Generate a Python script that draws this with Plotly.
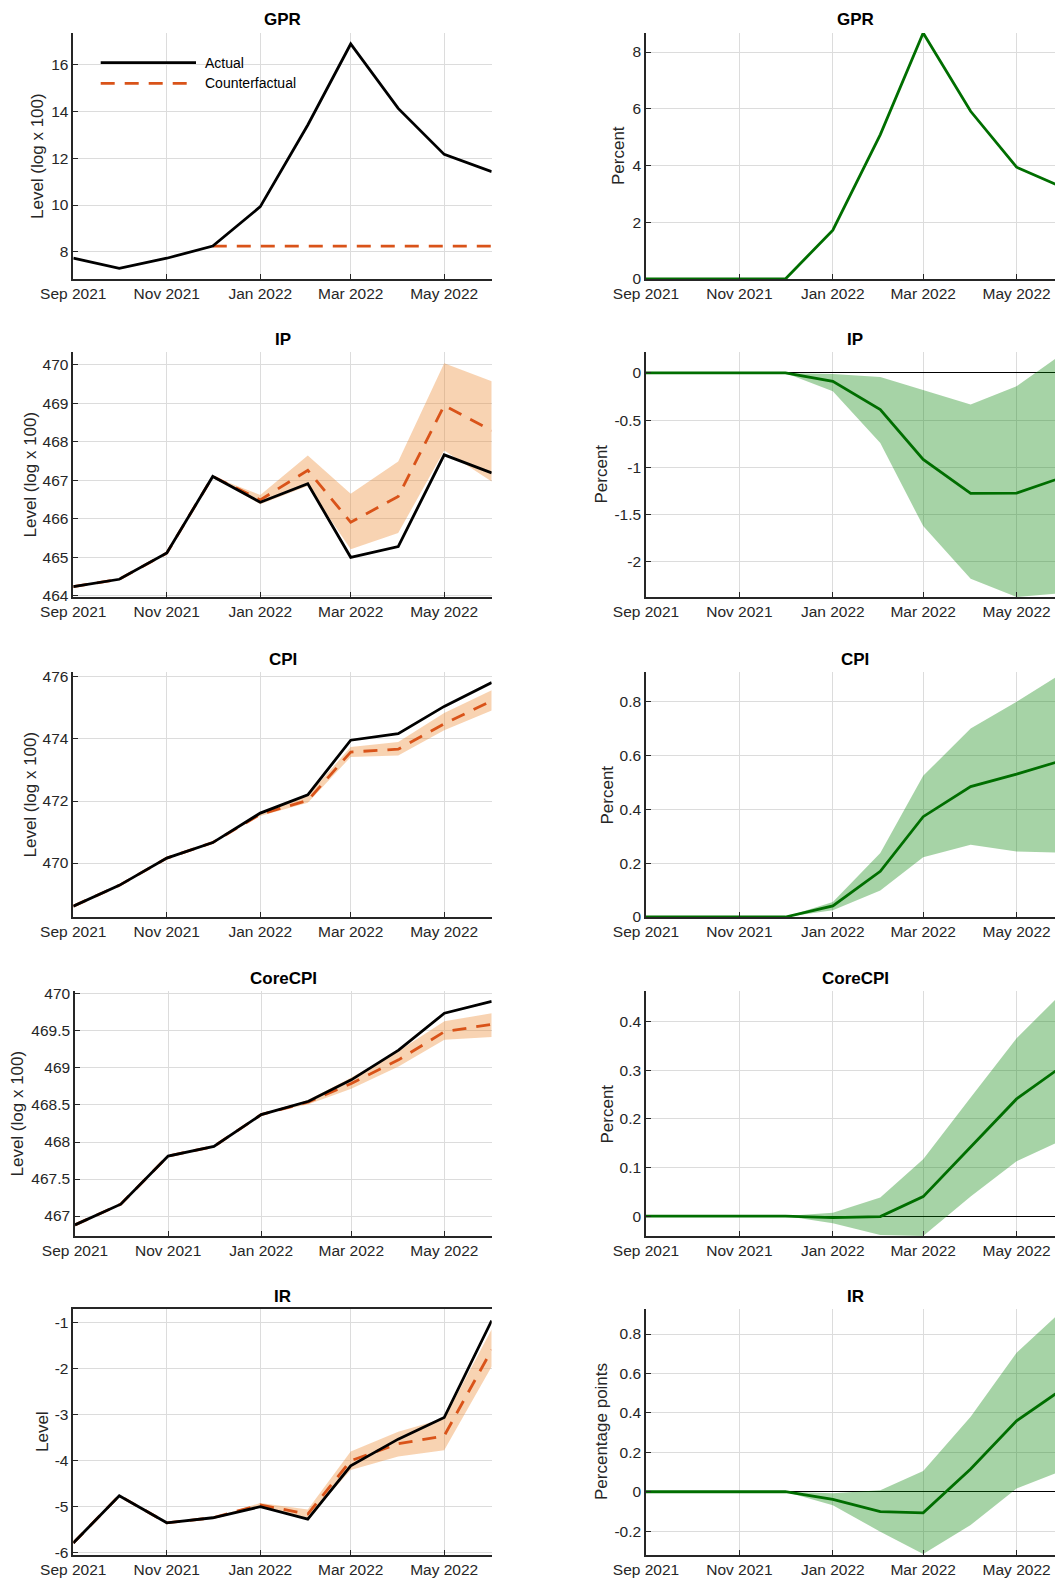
import plotly.graph_objects as go
from plotly.subplots import make_subplots

# ---------------- data ----------------
months = ["2021-09-01", "2021-10-01", "2021-11-01", "2021-12-01", "2022-01-01",
          "2022-02-01", "2022-03-01", "2022-04-01", "2022-05-01", "2022-06-01"]
xtick_vals = ["2021-09-01", "2021-11-01", "2022-01-01", "2022-03-01", "2022-05-01"]
xtick_text = ["Sep 2021", "Nov 2021", "Jan 2022", "Mar 2022", "May 2022"]

variables = ["GPR", "IP", "CPI", "CoreCPI", "IR"]
left_ylabels = ["Level (log x 100)", "Level (log x 100)", "Level (log x 100)", "Level (log x 100)", "Level"]
right_ylabels = ["Percent", "Percent", "Percent", "Percent", "Percentage points"]

# GPR
gpr_actual = [7.72, 7.29, 7.72, 8.24, 9.93, 13.43, 16.90, 14.14, 12.17, 11.43]
gpr_cf = [None, None, None, 8.24, 8.24, 8.24, 8.24, 8.24, 8.24, 8.24]
gpr_cf_hi = [None] * 10
gpr_cf_lo = [None] * 10
gpr_eff = [0, 0, 0, 0, 1.72, 5.09, 8.67, 5.91, 3.94, 3.21]
gpr_eff_hi = [None] * 10
gpr_eff_lo = [None] * 10

# IP
ip_actual = [464.24, 464.43, 465.11, 467.10, 466.43, 466.91, 465.00, 465.28, 467.66, 467.19]
ip_cf = [464.24, 464.43, 465.11, 467.10, 466.49, 467.26, 465.91, 466.58, 468.94, 468.29]
ip_cf_hi = [None, None, None, 467.10, 466.62, 467.64, 466.65, 467.49, 470.04, 469.57]
ip_cf_lo = [None, None, None, 467.10, 466.38, 466.85, 465.21, 465.63, 467.77, 466.97]
ip_eff = [0, 0, 0, 0, -0.088, -0.388, -0.917, -1.277, -1.273, -1.10]
ip_eff_hi = [None, None, None, 0, -0.01, -0.042, -0.183, -0.335, -0.141, 0.217]
ip_eff_lo = [None, None, None, 0, -0.194, -0.741, -1.623, -2.18, -2.374, -2.33]

# CPI
cpi_actual = [468.61, 469.28, 470.16, 470.66, 471.61, 472.20, 473.96, 474.17, 475.05, 475.82]
cpi_cf = [468.61, 469.28, 470.16, 470.66, 471.57, 472.02, 473.58, 473.67, 474.49, 475.23]
cpi_cf_hi = [None, None, None, 470.66, 471.62, 472.18, 473.74, 473.90, 474.84, 475.57]
cpi_cf_lo = [None, None, None, 470.66, 471.52, 471.94, 473.42, 473.47, 474.28, 474.92]
cpi_eff = [0, 0, 0, 0, 0.041, 0.170, 0.373, 0.485, 0.531, 0.584]
cpi_eff_hi = [None, None, None, 0, 0.056, 0.238, 0.525, 0.701, 0.80, 0.911]
cpi_eff_lo = [None, None, None, 0, 0.025, 0.099, 0.222, 0.269, 0.244, 0.239]

# CoreCPI
core_actual = [466.88, 467.16, 467.81, 467.94, 468.37, 468.55, 468.84, 469.24, 469.74, 469.90]
core_cf = [466.88, 467.16, 467.81, 467.94, 468.37, 468.54, 468.79, 469.11, 469.49, 469.59]
core_cf_hi = [None, None, None, 467.94, 468.37, 468.57, 468.87, 469.23, 469.63, 469.74]
core_cf_lo = [None, None, None, 467.94, 468.37, 468.51, 468.72, 469.02, 469.38, 469.42]
core_eff = [0, 0, 0, 0, -0.003, -0.001, 0.040, 0.142, 0.241, 0.311]
core_eff_hi = [None, None, None, 0, 0.007, 0.038, 0.117, 0.244, 0.366, 0.463]
core_eff_lo = [None, None, None, 0, -0.015, -0.039, -0.041, 0.040, 0.113, 0.158]

# IR
ir_actual = [-5.80, -4.77, -5.36, -5.25, -5.01, -5.28, -4.12, -3.54, -3.07, -0.96]
ir_cf = [-5.80, -4.77, -5.36, -5.25, -4.97, -5.17, -4.01, -3.64, -3.47, -1.60]
ir_cf_hi = [None, None, None, -5.25, -4.93, -5.07, -3.81, -3.38, -3.09, -1.15]
ir_cf_lo = [None, None, None, -5.25, -5.02, -5.26, -4.21, -3.92, -3.78, -1.96]
ir_eff = [0, 0, 0, 0, -0.039, -0.101, -0.107, 0.115, 0.360, 0.526]
ir_eff_hi = [None, None, None, 0, -0.008, 0.008, 0.105, 0.381, 0.705, 0.927]
ir_eff_lo = [None, None, None, 0, -0.068, -0.203, -0.316, -0.169, 0.017, 0.111]

# y tick values and axis ranges
left_yticks = [[8, 10, 12, 14, 16], [464, 465, 466, 467, 468, 469, 470], [470, 472, 474, 476],
               [467, 467.5, 468, 468.5, 469, 469.5, 470], [-6, -5, -4, -3, -2, -1]]
right_yticks = [[0, 2, 4, 6, 8], [-2, -1.5, -1, -0.5, 0], [0, 0.2, 0.4, 0.6, 0.8],
                [0, 0.1, 0.2, 0.3, 0.4], [-0.2, 0, 0.2, 0.4, 0.6, 0.8]]
left_yranges = [[6.83, 17.37], [463.97, 470.33], [468.26, 476.16], [466.73, 470.04], [-6.06, -0.71]]
right_yranges = [[0, 8.67], [-2.374, 0.222], [0, 0.911], [-0.041, 0.463], [-0.321, 0.927]]

left_data = [(gpr_actual, gpr_cf, gpr_cf_hi, gpr_cf_lo),
             (ip_actual, ip_cf, ip_cf_hi, ip_cf_lo),
             (cpi_actual, cpi_cf, cpi_cf_hi, cpi_cf_lo),
             (core_actual, core_cf, core_cf_hi, core_cf_lo),
             (ir_actual, ir_cf, ir_cf_hi, ir_cf_lo)]
right_data = [(gpr_eff, gpr_eff_hi, gpr_eff_lo),
              (ip_eff, ip_eff_hi, ip_eff_lo),
              (cpi_eff, cpi_eff_hi, cpi_eff_lo),
              (core_eff, core_eff_hi, core_eff_lo),
              (ir_eff, ir_eff_hi, ir_eff_lo)]

# ---------------- styling ----------------
W, H = 1055, 1580
BLACK = "#000000"
ORANGE = "#D95319"
ORANGE_BAND = "rgba(236,140,52,0.38)"
GREEN = "rgb(0,110,0)"
GREEN_BAND = "rgba(0,128,0,0.35)"
AXC = "#262626"
GRID = "#dcdcdc"
FONT = "Liberation Sans, Arial, sans-serif"

row_px = [(33, 279), (352, 597), (672, 917), (991, 1236), (1309, 1555)]
left_x_px = [(73.3, 491.7), (73.3, 491.7), (73.3, 491.7), (75.0, 491.7), (73.3, 491.7)]
right_x_px = (646.0, 1055.0)
right_center_px = 855.0
left_label_x = [38, 30, 30, 17, 42]
right_label_x = [619, 601, 607, 607, 601]

fig = make_subplots(rows=5, cols=2)


def band_polygon(hi, lo):
    xs = [m for m, h in zip(months, hi) if h is not None]
    his = [h for h in hi if h is not None]
    los = [l for l in lo if l is not None]
    return xs + xs[::-1], his + los[::-1]


def fmt(v):
    return f"{v:g}"


for r in range(5):
    actual, cf, hi, lo = left_data[r]
    if any(v is not None for v in hi):
        bx, by = band_polygon(hi, lo)
        fig.add_trace(go.Scatter(x=bx, y=by, fill="toself", fillcolor=ORANGE_BAND,
                                 line=dict(width=0), mode="lines", showlegend=False,
                                 hoverinfo="skip"), row=r + 1, col=1)
    fig.add_trace(go.Scatter(x=months, y=cf, mode="lines", name="Counterfactual",
                             line=dict(color=ORANGE, width=2.8, dash="14px,10px"),
                             showlegend=False), row=r + 1, col=1)
    fig.add_trace(go.Scatter(x=months, y=actual, mode="lines", name="Actual",
                             line=dict(color=BLACK, width=2.8), showlegend=False),
                  row=r + 1, col=1)

    eff, ehi, elo = right_data[r]
    if any(v is not None for v in ehi):
        bx, by = band_polygon(ehi, elo)
        fig.add_trace(go.Scatter(x=bx, y=by, fill="toself", fillcolor=GREEN_BAND,
                                 line=dict(width=0), mode="lines", showlegend=False,
                                 hoverinfo="skip"), row=r + 1, col=2)
    fig.add_trace(go.Scatter(x=months, y=eff, mode="lines", name="Effect",
                             line=dict(color=GREEN, width=2.8), showlegend=False),
                  row=r + 1, col=2)

common_axis = dict(showline=True, linecolor=AXC, linewidth=1.5, ticks="inside",
                   ticklen=5, tickwidth=1.3, tickcolor=AXC, showgrid=True,
                   gridcolor=GRID, gridwidth=1,
                   tickfont=dict(family=FONT, size=15.5, color=AXC), automargin=False)

annotations = []
for r in range(5):
    y0, y1 = row_px[r]
    ydom = [1 - y1 / H, 1 - y0 / H]
    for c in range(2):
        i = r * 2 + c + 1
        xa = "xaxis" if i == 1 else f"xaxis{i}"
        ya = "yaxis" if i == 1 else f"yaxis{i}"
        if c == 0:
            xdom = [left_x_px[r][0] / W, left_x_px[r][1] / W]
            xrange = ["2021-09-01", "2022-06-01"]
            yt = left_yticks[r]
            yr = left_yranges[r]
            zl = dict(zeroline=False)
        else:
            xdom = [right_x_px[0] / W, right_x_px[1] / W]
            xrange = ["2021-09-01", "2022-05-26 02:00"]
            yt = right_yticks[r]
            yr = right_yranges[r]
            zl = dict(zeroline=True, zerolinecolor=BLACK, zerolinewidth=1)
        fig.layout[xa].update(domain=xdom, range=xrange, type="date",
                              tickvals=xtick_vals, ticktext=xtick_text,
                              zeroline=False, mirror=(r == 4 and c == 0), **common_axis)
        fig.layout[ya].update(domain=ydom, range=yr, tickvals=yt,
                              ticktext=[fmt(v) for v in yt], mirror=False, **zl, **common_axis)

        # subplot title
        cx = (left_x_px[r][0] + left_x_px[r][1]) / 2 if c == 0 else right_center_px
        annotations.append(dict(text=variables[r], x=cx / W, y=1 - (y0 - 13) / H,
                                xref="paper", yref="paper", showarrow=False,
                                xanchor="center", yanchor="middle",
                                font=dict(family=FONT, size=17, color=BLACK, weight="bold")))
        # y-axis title
        lx = left_label_x[r] if c == 0 else right_label_x[r]
        ltxt = left_ylabels[r] if c == 0 else right_ylabels[r]
        annotations.append(dict(text=ltxt, x=lx / W, y=1 - (y0 + y1) / 2 / H,
                                xref="paper", yref="paper", showarrow=False, textangle=-90,
                                xanchor="center", yanchor="middle",
                                font=dict(family=FONT, size=17, color=AXC)))

# manual legend (long line samples, no box) in the first panel
legend_items = [("Actual", BLACK, "solid", 62.7), ("Counterfactual", ORANGE, "14px,10px", 83.3)]
shapes = []
for name, col, dash, ypx in legend_items:
    shapes.append(dict(type="line", xref="paper", yref="paper",
                       x0=100.7 / W, x1=196 / W, y0=1 - ypx / H, y1=1 - ypx / H,
                       line=dict(color=col, width=2.8, dash=dash)))
    annotations.append(dict(text=name, x=203 / W, y=1 - ypx / H, xref="paper", yref="paper",
                            showarrow=False, xanchor="left", yanchor="middle",
                            font=dict(family=FONT, size=14, color=BLACK)))

fig.update_layout(width=W, height=H, margin=dict(l=0, r=0, t=0, b=0, pad=0),
                  plot_bgcolor="white", paper_bgcolor="white",
                  annotations=annotations, shapes=shapes, showlegend=False,
                  font=dict(family=FONT, color=AXC))

fig.write_html("out.html")
